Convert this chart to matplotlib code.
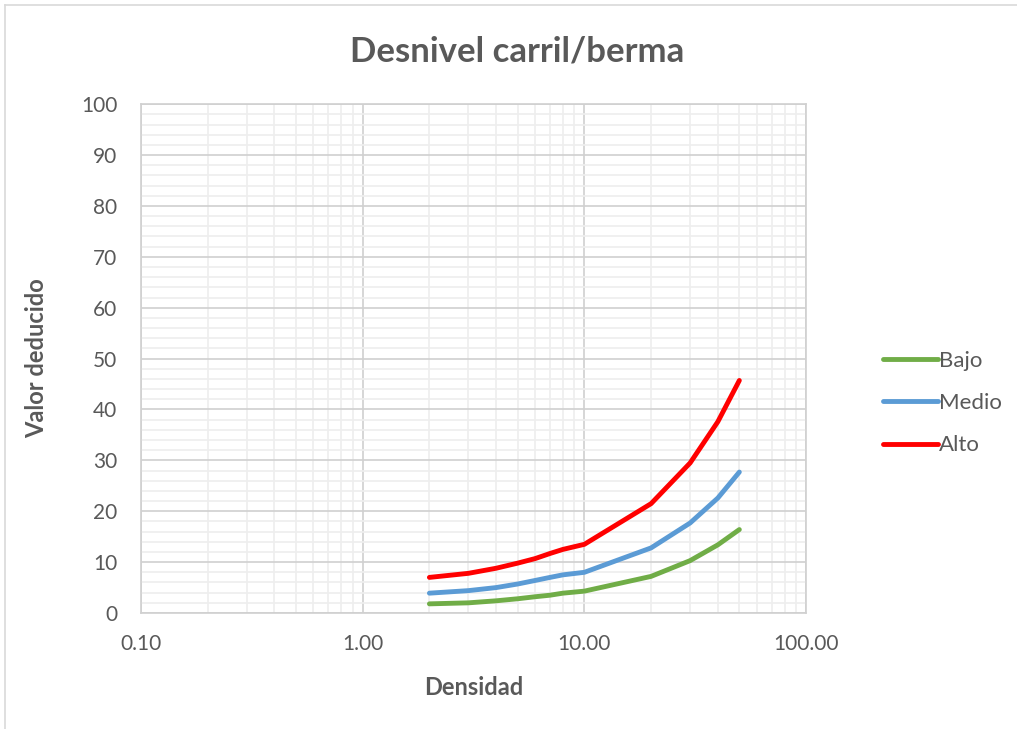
import numpy as np
import matplotlib.pyplot as plt
from matplotlib.ticker import FixedLocator, FuncFormatter, NullFormatter

densidad = [2, 3, 4, 5, 6, 7, 8, 10, 20, 30, 40, 50]
bajo = [1.8, 2.0, 2.4, 2.8, 3.2, 3.5, 3.9, 4.3, 7.2, 10.3, 13.4, 16.4]
medio = [3.9, 4.4, 5.0, 5.7, 6.4, 7.0, 7.5, 8.0, 12.8, 17.7, 22.6, 27.7]
alto = [7.0, 7.8, 8.8, 9.8, 10.7, 11.7, 12.5, 13.5, 21.5, 29.5, 37.6, 45.7]

plt.rcParams['font.family'] = ['Lato', 'DejaVu Sans']
txt = '#595959'

fig = plt.figure(figsize=(10.17, 7.29), dpi=100)
ax = fig.add_axes([0.1386, 0.1591, 0.654, 0.698])

ax.plot(densidad, bajo, color='#70AD47', lw=3.5, label='Bajo', solid_capstyle='round')
ax.plot(densidad, medio, color='#5B9BD5', lw=3.5, label='Medio', solid_capstyle='round')
ax.plot(densidad, alto, color='#FF0000', lw=3.5, label='Alto', solid_capstyle='round')

ax.set_xscale('log')
ax.set_xlim(0.1, 100)
ax.set_ylim(0, 100)

ax.xaxis.set_major_locator(FixedLocator([0.1, 1, 10, 100]))
ax.xaxis.set_major_formatter(FuncFormatter(lambda v, p: f'{v:.2f}'))
minor_x = [m * d for d in (0.1, 1, 10) for m in range(2, 10)]
ax.xaxis.set_minor_locator(FixedLocator(minor_x))
ax.xaxis.set_minor_formatter(NullFormatter())
ax.set_yticks(np.arange(0, 101, 10))
ax.set_yticks(np.arange(0, 101, 2), minor=True)

ax.grid(which='major', color='#D0D0D0', lw=1.2)
ax.grid(which='minor', color='#EEEEEE', lw=1.2)
ax.set_axisbelow(True)
for s in ax.spines.values():
    s.set_color('#D0D0D0')
    s.set_linewidth(1.2)
ax.tick_params(which='both', length=0, colors=txt, labelsize=15)
ax.tick_params(axis='x', pad=15)
ax.tick_params(axis='y', pad=17)

ax.set_xlabel('Densidad', fontsize=17, fontweight='bold', color=txt, labelpad=16)
ax.set_ylabel('Valor deducido', fontsize=17, fontweight='bold', color=txt, labelpad=24)
fig.text(0.508, 0.930, 'Desnivel carril/berma', ha='center', va='center',
         fontsize=25, fontweight='bold', color=txt)

leg = ax.legend(loc='center left', bbox_to_anchor=(1.085, 0.4126), frameon=False,
                fontsize=16, labelcolor=txt, handlelength=2.5, handletextpad=0.05,
                labelspacing=1.0)

# chart area frame
fig.add_artist(plt.Line2D([0.005, 0.005], [0, 0.993], color='#D9D9D9', lw=1.2))
fig.add_artist(plt.Line2D([0.005, 1], [0.993, 0.993], color='#D9D9D9', lw=1.2))

fig.savefig('out.png', dpi=100)
